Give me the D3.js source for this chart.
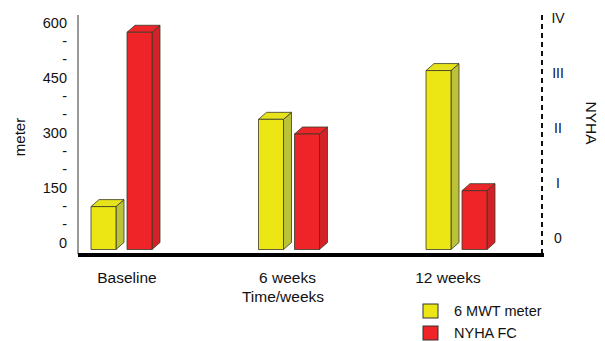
<!DOCTYPE html>
<html>
<head>
<meta charset="utf-8">
<script src="https://cdn.jsdelivr.net/npm/d3@7"></script>
<style>
  html, body { margin: 0; padding: 0; background: #fff; }
  text { font-family: "Liberation Sans", Arial, sans-serif; fill: #111; }
</style>
</head>
<body>
<svg id="chart" width="605" height="341"></svg>
<script>
// Time points and the two measured series
const categories = ["Baseline", "6 weeks", "12 weeks"];
const seriesNames = ["6 MWT meter", "NYHA FC"];
const walkMeters = [117, 355, 488];      // 6-minute walk test distance (left axis)
const nyhaClass = [3.95, 2.1, 1.07];     // NYHA functional class (right axis)
const meterTicks = [0, 50, 100, 150, 200, 250, 300, 350, 400, 450, 500, 550, 600];
const meterLabels = [0, 150, 300, 450, 600];
const nyhaTicks = [0, 1, 2, 3, 4];
const nyhaLabels = ["0", "I", "II", "III", "IV"];

const svg = d3.select("#chart");

// Bar geometry: front face plus an oblique depth for the 3D look
const depthX = 8, depthY = 7;
const frontBottom = 249.5, frontTop = 29.5;

const yMeter = d3.scaleLinear().domain([0, 600]).range([frontBottom, frontTop]);
const yNyha = d3.scaleLinear().domain([0, 4]).range([frontBottom, frontTop]);
// Axis labels sit on the back plane of the bars
const yMeterAxis = d3.scaleLinear().domain([0, 600]).range([frontBottom - depthY, frontTop - depthY]);
const yNyhaAxis = d3.scaleLinear().domain([0, 4]).range([238, 18]);

const xGroup = d3.scalePoint().domain(categories).range([126, 461]);
const xLabel = d3.scalePoint().domain(categories).range([127, 448]);
const xSeries = d3.scaleBand().domain(seriesNames).range([-35, 26]).paddingInner(0.306);

const palette = {
  "6 MWT meter": { front: "#ebe614", side: "#bcc238", top: "#e6e31c" },
  "NYHA FC": { front: "#ee2428", side: "#d22228", top: "#ec2529" }
};

// Left axis (meters)
const leftAxis = d3.axisLeft(yMeterAxis)
  .tickValues(meterTicks)
  .tickSize(0)
  .tickPadding(11)
  .tickFormat(d => meterLabels.includes(d) ? String(d) : "-");
const gl = svg.append("g").attr("transform", "translate(78,0)").call(leftAxis);
gl.select(".domain").remove();
gl.selectAll("text").style("font-size", "14.5px").style("font-family", "'Liberation Sans', Arial, sans-serif").attr("fill", "#111");

svg.append("line").attr("x1", 78).attr("x2", 78).attr("y1", 15).attr("y2", 254)
  .attr("stroke", "#555").attr("stroke-width", 1.2);

// Right axis (NYHA class), dashed
const rightAxis = d3.axisRight(yNyhaAxis)
  .tickValues(nyhaTicks)
  .tickSize(0)
  .tickPadding(0)
  .tickFormat((d, i) => nyhaLabels[i]);
const gr = svg.append("g").attr("transform", "translate(558,0)").call(rightAxis);
gr.select(".domain").remove();
gr.selectAll("text").attr("x", 0).attr("text-anchor", "middle")
  .style("font-size", "14px").style("font-family", "'Liberation Sans', Arial, sans-serif").attr("fill", "#111");

svg.append("line").attr("x1", 542).attr("x2", 542).attr("y1", 15).attr("y2", 254)
  .attr("stroke", "#111").attr("stroke-width", 2).attr("stroke-dasharray", "5,4");

// Bars
const bars = [];
categories.forEach((c, i) => {
  bars.push({ cat: c, series: "6 MWT meter", y: yMeter(walkMeters[i]) });
  bars.push({ cat: c, series: "NYHA FC", y: yNyha(nyhaClass[i]) });
});

const w = xSeries.bandwidth();
const gb = svg.append("g");
bars.forEach(b => {
  const x0 = xGroup(b.cat) + xSeries(b.series);
  const x1 = x0 + w;
  const yt = b.y, yb = frontBottom;
  const col = palette[b.series];
  const g = gb.append("g").attr("stroke", "#3a3a2a").attr("stroke-width", 0.8).attr("stroke-linejoin", "round");
  // side face
  g.append("path")
    .attr("d", `M${x1},${yt} L${x1 + depthX},${yt - depthY} L${x1 + depthX},${yb - depthY} L${x1},${yb} Z`)
    .attr("fill", col.side);
  // top face
  g.append("path")
    .attr("d", `M${x0},${yt} L${x0 + depthX},${yt - depthY} L${x1 + depthX},${yt - depthY} L${x1},${yt} Z`)
    .attr("fill", col.top);
  // front face
  g.append("rect").attr("x", x0).attr("y", yt).attr("width", w).attr("height", yb - yt)
    .attr("fill", col.front);
});

// Floor line
svg.append("line").attr("x1", 78).attr("x2", 544).attr("y1", 255).attr("y2", 255)
  .attr("stroke", "#000").attr("stroke-width", 4);

// Category labels
svg.append("g").selectAll("text").data(categories).join("text")
  .attr("x", d => xLabel(d))
  .attr("y", 283)
  .attr("text-anchor", "middle")
  .style("font-size", "15.5px")
  .text(d => d);

svg.append("text").attr("x", 283).attr("y", 302).attr("text-anchor", "middle")
  .style("font-size", "15.5px").text("Time/weeks");

// Axis titles
svg.append("text").attr("transform", "translate(25,137) rotate(-90)")
  .attr("text-anchor", "middle").style("font-size", "15px").text("meter");
svg.append("text").attr("transform", "translate(586,123) rotate(90)")
  .attr("text-anchor", "middle").style("font-size", "15.5px").text("NYHA");

// Legend
const lg = svg.append("g").selectAll("g").data(seriesNames).join("g")
  .attr("transform", (d, i) => `translate(423,${304 + i * 22})`);
lg.append("rect").attr("width", 15).attr("height", 14)
  .attr("fill", d => palette[d].front).attr("stroke", "#333").attr("stroke-width", 1);
lg.append("text").attr("x", 31).attr("y", 12).style("font-size", "14.5px").text(d => d);
</script>
</body>
</html>
